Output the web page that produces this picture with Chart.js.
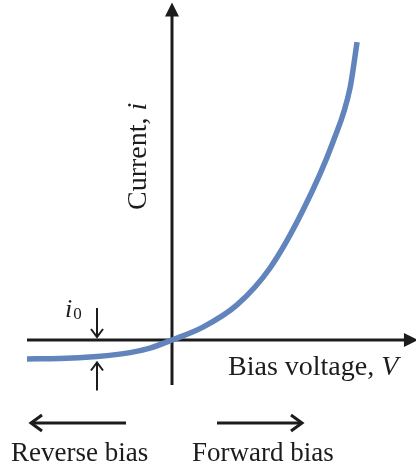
<!DOCTYPE html>
<html>
<head>
<meta charset="utf-8">
<script src="https://cdn.jsdelivr.net/npm/chart.js@4"></script>
<style>
  html, body { margin: 0; padding: 0; background: #ffffff; }
  canvas { display: block; }
</style>
</head>
<body>
<canvas id="iv" width="416" height="469"></canvas>
<script>
// Diode current-voltage characteristic (arbitrary units)
const biasVoltage = [-0.843, -0.651, -0.436, -0.244, -0.128, 0, 0.180, 0.378, 0.570, 0.762, 0.936, 1.035, 1.076];
const current     = [-0.063, -0.062, -0.055, -0.042, -0.027, 0, 0.043, 0.117, 0.240, 0.433, 0.660, 0.840, 0.993];

// Axis extents (same units as the data)
const vAxisFrom = -0.843, vAxisTo = 1.43;
const iAxisFrom = -0.15,  iAxisTo = 1.125;
// Saturation-current marker position
const i0Voltage = -0.436;

const INK = '#1c1c1c';
const SERIF = '"Liberation Serif", "DejaVu Serif", serif';

function arrowFilled(ctx, x, y, dx, dy, len, half) {
  const px = -dy, py = dx;
  ctx.beginPath();
  ctx.moveTo(x, y);
  ctx.lineTo(x - dx * len + px * half, y - dy * len + py * half);
  ctx.lineTo(x - dx * len - px * half, y - dy * len - py * half);
  ctx.closePath();
  ctx.fill();
}
function arrowOpen(ctx, x0, y0, x1, y1, len, half, lw) {
  const L = Math.hypot(x1 - x0, y1 - y0);
  const dx = (x1 - x0) / L, dy = (y1 - y0) / L;
  const px = -dy, py = dx;
  ctx.lineWidth = lw;
  ctx.lineCap = 'butt';
  ctx.beginPath();
  ctx.moveTo(x0, y0);
  ctx.lineTo(x1 - dx * lw * 0.5, y1 - dy * lw * 0.5);
  ctx.stroke();
  ctx.lineJoin = 'miter';
  ctx.beginPath();
  ctx.moveTo(x1 - dx * len + px * half, y1 - dy * len + py * half);
  ctx.lineTo(x1, y1);
  ctx.lineTo(x1 - dx * len - px * half, y1 - dy * len - py * half);
  ctx.stroke();
}

const axesPlugin = {
  id: 'ivAxes',
  beforeDatasetsDraw(chart) {
    const { ctx, scales: { x, y } } = chart;
    const x0 = x.getPixelForValue(0), y0 = y.getPixelForValue(0);
    ctx.save();
    ctx.strokeStyle = INK; ctx.fillStyle = INK;
    ctx.lineWidth = 3;
    // horizontal axis
    const xl = x.getPixelForValue(vAxisFrom), xr = x.getPixelForValue(vAxisTo);
    ctx.beginPath(); ctx.moveTo(xl, y0); ctx.lineTo(xr - 10, y0); ctx.stroke();
    arrowFilled(ctx, xr, y0, 1, 0, 14, 7);
    // vertical axis
    const yb = y.getPixelForValue(iAxisFrom), yt = y.getPixelForValue(iAxisTo);
    ctx.beginPath(); ctx.moveTo(x0, yb); ctx.lineTo(x0, yt + 10); ctx.stroke();
    arrowFilled(ctx, x0, yt, 0, -1, 14, 7);
    ctx.restore();
  },
  afterDatasetsDraw(chart) {
    const { ctx, scales: { x, y } } = chart;
    const x0 = x.getPixelForValue(0), y0 = y.getPixelForValue(0);
    ctx.save();
    ctx.strokeStyle = INK; ctx.fillStyle = INK;

    // i0 markers
    const xm = x.getPixelForValue(i0Voltage);
    const curveAtMarker = y.getPixelForValue(current[biasVoltage.indexOf(i0Voltage)]);
    arrowOpen(ctx, xm, y0 - 32, xm, y0 - 3, 8, 6, 2);
    arrowOpen(ctx, xm, curveAtMarker + 34, xm, curveAtMarker + 6, 8, 6, 2);
    ctx.textBaseline = 'alphabetic';
    ctx.textAlign = 'left';
    ctx.font = 'italic 26px ' + SERIF;
    ctx.fillText('i', xm - 32, y0 - 23);
    const iw = ctx.measureText('i').width;
    ctx.font = '17px ' + SERIF;
    ctx.fillText('0', xm - 32 + iw + 1, y0 - 21);

    // axis titles
    ctx.font = '28px ' + SERIF;
    const t1 = 'Bias voltage, ';
    ctx.fillText(t1, 228, 375);
    const w1 = ctx.measureText(t1).width;
    ctx.font = 'italic 28px ' + SERIF;
    ctx.fillText('V', 228 + w1, 375);

    ctx.save();
    ctx.translate(146, 210);
    ctx.rotate(-Math.PI / 2);
    ctx.font = '28px ' + SERIF;
    const t2 = 'Current, ';
    ctx.fillText(t2, 0, 0);
    const w2 = ctx.measureText(t2).width;
    ctx.font = 'italic 28px ' + SERIF;
    ctx.fillText('i', w2, 0);
    ctx.restore();

    // bias direction arrows and labels
    arrowOpen(ctx, 126, 423, 31, 423, 11, 8, 3);
    arrowOpen(ctx, 217, 423, 302, 423, 11, 8, 3);
    ctx.font = '27px ' + SERIF;
    ctx.fillText('Reverse bias', 11, 461);
    ctx.fillText('Forward bias', 192, 461);
    ctx.restore();
  }
};

new Chart(document.getElementById('iv'), {
  type: 'line',
  data: {
    datasets: [{
      data: biasVoltage.map((v, k) => ({ x: v, y: current[k] })),
      borderColor: '#6184bc',
      borderWidth: 5.5,
      pointRadius: 0,
      cubicInterpolationMode: 'monotone',
      fill: false
    }]
  },
  options: {
    responsive: false,
    animation: false,
    devicePixelRatio: 1,
    layout: { padding: 0 },
    plugins: { legend: { display: false }, tooltip: { enabled: false } },
    scales: {
      x: { type: 'linear', display: false, min: -1.0, max: 1.4186 },
      y: { type: 'linear', display: false, min: -0.43, max: 1.1333 }
    }
  },
  plugins: [axesPlugin]
});
</script>
</body>
</html>
